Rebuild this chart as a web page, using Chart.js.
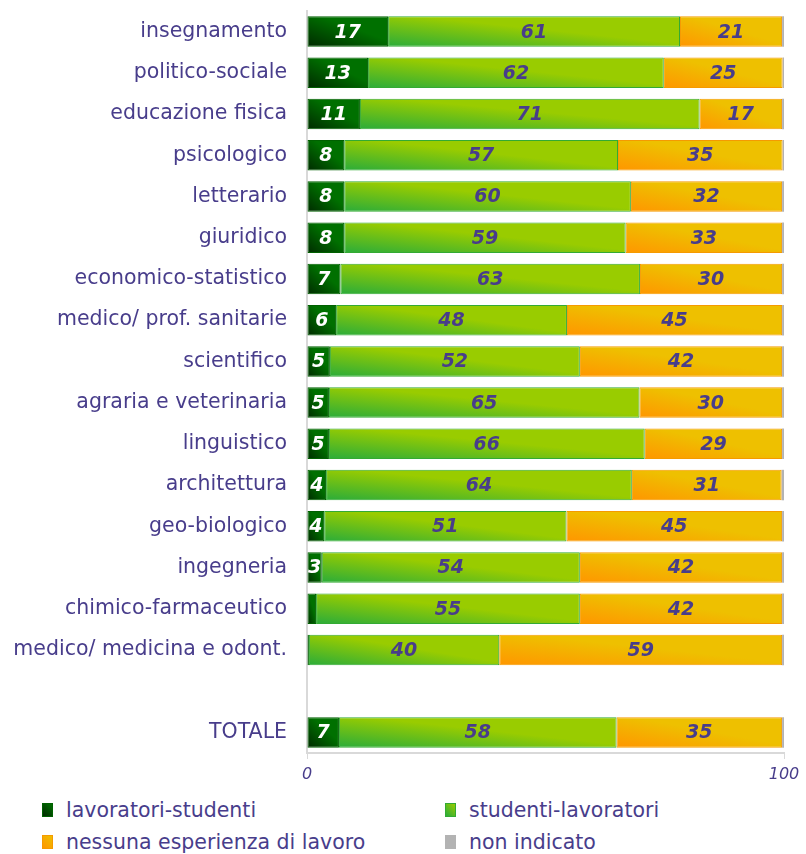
<!DOCTYPE html>
<html>
<head>
<meta charset="utf-8">
<script src="https://cdn.jsdelivr.net/npm/chart.js@4.4.1/dist/chart.umd.min.js"></script>
<style>
  html, body { margin: 0; padding: 0; background: #ffffff; }
  #wrap { position: relative; width: 806px; height: 854px; overflow: hidden; }
  #c { position: absolute; left: 0; top: 0; }
  .leg { position: absolute; font-family: "DejaVu Sans", Verdana, sans-serif; font-size: 20.5px; color: #483d8b; white-space: nowrap; line-height: 24px; }
  .sw { position: absolute; width: 11px; height: 14px; box-sizing: border-box; }
</style>
</head>
<body>
<div id="wrap">
  <canvas id="c" width="806" height="790"></canvas>
  <div id="legend"></div>
</div>
<script>
// ---- data ----
const categories = [
  "insegnamento", "politico-sociale", "educazione fisica", "psicologico",
  "letterario", "giuridico", "economico-statistico", "medico/ prof. sanitarie",
  "scientifico", "agraria e veterinaria", "linguistico", "architettura",
  "geo-biologico", "ingegneria", "chimico-farmaceutico", "medico/ medicina e odont.",
  "", "TOTALE"
];
const seriesNames = ["lavoratori-studenti", "studenti-lavoratori", "nessuna esperienza di lavoro", "non indicato"];
const lavoratoriStudenti = [17.0, 12.8, 11.1, 7.8, 7.8, 7.8, 7.0, 6.1, 4.8, 4.6, 4.6, 4.0, 3.6, 3.1, 1.9, 0.4, null, 6.7];
const studentiLavoratori = [61.2, 62.0, 71.2, 57.4, 60.1, 59.0, 62.8, 48.4, 52.4, 65.1, 66.2, 64.1, 50.8, 54.1, 55.3, 39.9, null, 58.2];
const nessunaEsperienza  = [21.4, 24.9, 17.3, 34.5, 31.7, 32.8, 29.8, 45.1, 42.4, 29.9, 28.8, 31.4, 45.2, 42.4, 42.4, 59.3, null, 34.7];
const nonIndicato        = [0.4, 0.3, 0.4, 0.3, 0.4, 0.4, 0.4, 0.4, 0.4, 0.4, 0.4, 0.5, 0.4, 0.4, 0.4, 0.4, null, 0.4];
const axisTicks = [0, 100];

// ---- styles ----
const TEXT = "#483d8b";
const FONT = '"DejaVu Sans", Verdana, sans-serif';
const palettes = [
  { dark: "#002a00", light: "#007000", border: "#006000", stop: 0.6 },
  { dark: "#2aac3a", light: "#99cc00", border: "#33aa33", stop: 0.55 },
  { dark: "#ff9600", light: "#eec000", border: "#f59a00", stop: 0.55 },
  { dark: "#b3b3b3", light: "#b3b3b3", border: "#b3b3b3", stop: 1 }
];
const BAR_PCT = 0.74;

const allSeries = [lavoratoriStudenti, studentiLavoratori, nessunaEsperienza, nonIndicato];

function barFill(ctx) {
  const p = palettes[ctx.datasetIndex];
  if (ctx.type !== 'data') return p.light;
  const chart = ctx.chart;
  const xs = chart.scales.x, ys = chart.scales.y;
  if (!chart.chartArea || !xs || !ys) return p.light;
  const j = ctx.dataIndex, i = ctx.datasetIndex;
  let start = 0;
  for (let k = 0; k < i; k++) start += (allSeries[k][j] || 0);
  const v = allSeries[i][j] || 0;
  const x0 = xs.getPixelForValue(start), x1 = xs.getPixelForValue(start + v);
  const yc = ys.getPixelForValue(j);
  const rowH = (ys.bottom - ys.top) / categories.length;
  const H = rowH * BAR_PCT;
  const W = Math.max(x1 - x0, 1);
  const y1 = yc + H / 2;
  if (!isFinite(x0) || !isFinite(yc)) return p.light;
  // bounding-box diagonal gradient: bottom-left -> top-right
  const k = 2 * W * H / (W * W + H * H);
  const g = chart.ctx.createLinearGradient(x0, y1, x0 + H * k, y1 - W * k);
  g.addColorStop(0, p.dark);
  g.addColorStop(p.stop, p.light);
  g.addColorStop(1, p.light);
  return g;
}

const labelPlugin = {
  id: 'segLabels',
  afterDatasetsDraw(chart) {
    const c = chart.ctx;
    c.save();
    c.font = 'italic bold 19px ' + FONT;
    c.textAlign = 'center';
    c.textBaseline = 'middle';
    for (let i = 0; i < 3; i++) {
      const meta = chart.getDatasetMeta(i);
      meta.data.forEach((bar, j) => {
        const v = allSeries[i][j];
        if (v == null || v < 2.5) return;
        const cx = (bar.x + bar.base) / 2;
        c.fillStyle = i === 0 ? '#ffffff' : TEXT;
        c.fillText(String(Math.round(v)), cx, bar.y + 1);
      });
    }
    c.restore();
  }
};

const chart = new Chart(document.getElementById('c'), {
  type: 'bar',
  data: {
    labels: categories,
    datasets: allSeries.map((arr, i) => ({
      label: seriesNames[i],
      data: arr,
      backgroundColor: barFill,
      borderColor: palettes[i].border,
      borderWidth: i === 3 ? 0 : 1,
      borderSkipped: false,
      barPercentage: BAR_PCT,
      categoryPercentage: 1
    }))
  },
  options: {
    indexAxis: 'y',
    responsive: false,
    animation: false,
    devicePixelRatio: 1,
    layout: { padding: { top: 11, right: 22, left: 0, bottom: 0 } },
    plugins: { legend: { display: false }, tooltip: { enabled: false } },
    scales: {
      x: {
        stacked: true,
        min: 0, max: 100,
        afterBuildTicks(scale) { scale.ticks = axisTicks.map(v => ({ value: v })); },
        afterFit(scale) { scale.height = 37; scale.paddingLeft = 0; scale.paddingRight = 0; },
        grid: { drawOnChartArea: false, color: '#d9d9d9', tickLength: 6 },
        border: { color: '#d9d9d9', width: 2 },
        ticks: { color: TEXT, font: { family: FONT, size: 16, style: 'italic' }, padding: 6, maxRotation: 0 }
      },
      y: {
        stacked: true,
        afterFit(scale) { scale.width = 307; scale.paddingTop = 0; scale.paddingBottom = 0; },
        grid: { display: false },
        border: { color: '#d9d9d9', width: 2 },
        ticks: { color: TEXT, font: { family: FONT, size: 20.5 }, padding: 12, autoSkip: false }
      }
    }
  },
  plugins: [labelPlugin]
});

// ---- HTML legend ----
const legendPos = [
  { sx: 42, tx: 66, y: 810 }, { sx: 445, tx: 469, y: 810 },
  { sx: 42, tx: 66, y: 842 }, { sx: 445, tx: 469, y: 842 }
];
const legendEl = document.getElementById('legend');
seriesNames.forEach((name, i) => {
  const p = palettes[i], pos = legendPos[i];
  const sw = document.createElement('div');
  sw.className = 'sw';
  sw.style.left = pos.sx + 'px';
  sw.style.top = (pos.y - 7) + 'px';
  sw.style.background = 'linear-gradient(45deg,' + p.dark + ',' + p.light + ')';
  sw.style.border = '1px solid ' + p.border;
  legendEl.appendChild(sw);
  const t = document.createElement('div');
  t.className = 'leg';
  t.style.left = pos.tx + 'px';
  t.style.top = (pos.y - 12) + 'px';
  t.textContent = name;
  legendEl.appendChild(t);
});
</script>
</body>
</html>
